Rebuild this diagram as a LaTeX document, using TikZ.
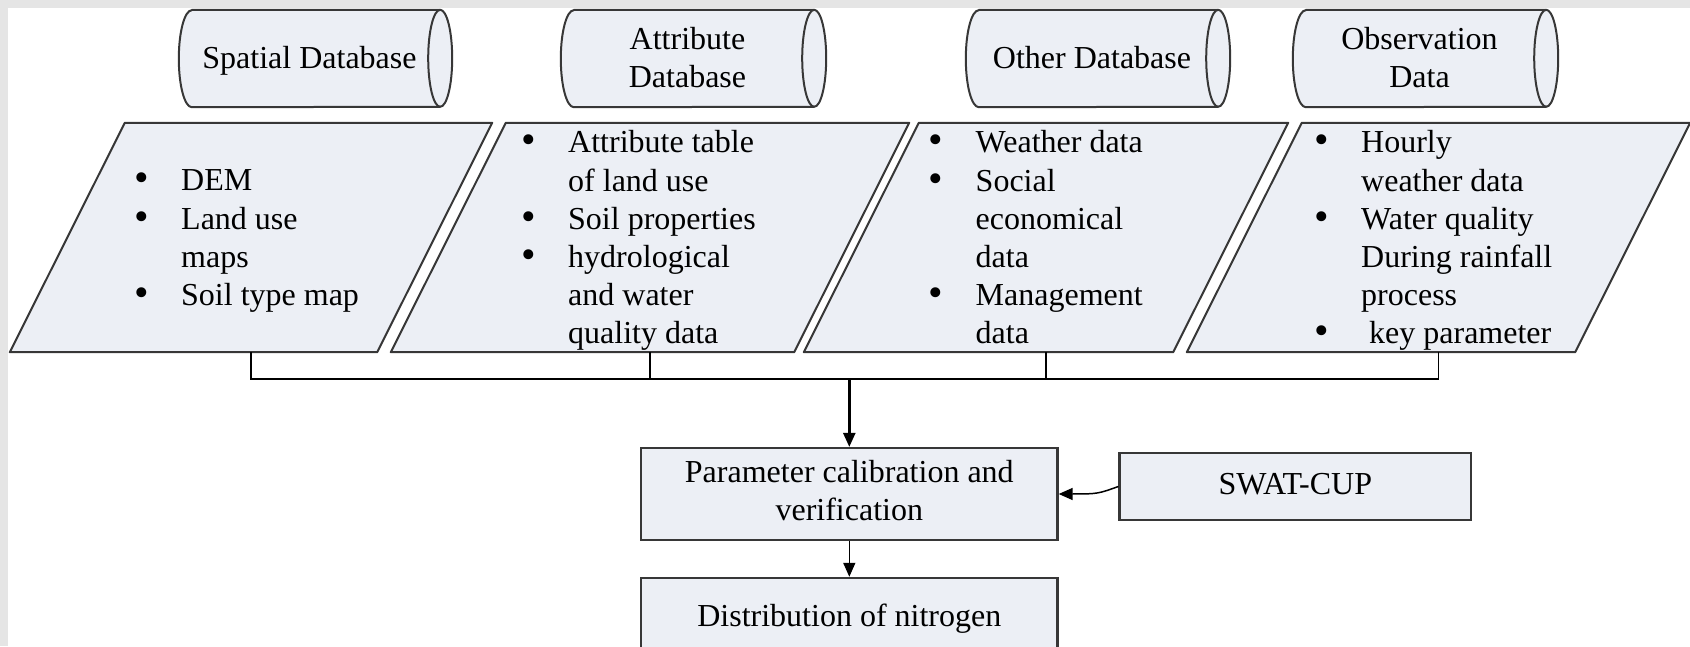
\documentclass[tikz,border=0pt]{standalone}
\usepackage{fontspec}
\setmainfont{Liberation Serif}
\usetikzlibrary{arrows.meta,backgrounds,calc}
\definecolor{boxfill}{RGB}{236,239,245}
\definecolor{edge}{RGB}{55,55,55}
\definecolor{framegray}{RGB}{229,229,229}
\newcommand\bul{\makebox[47pt][l]{\raisebox{-1pt}{\scalebox{1.3}{\textbullet}}}}
\newcommand\nob{\hspace*{47pt}}
\begin{document}
\begin{tikzpicture}[x=1pt,y=1pt,
  txt/.style={font=\fontsize{32}{38.2}\selectfont, inner sep=0pt},
  cylbox/.style={minimum height=97pt, inner sep=0pt},
  cyltext/.style={txt, align=center},
  listtext/.style={txt, anchor=base west},
  parbox/.style={minimum height=229pt, inner sep=0pt},
  procbox/.style={draw=edge, line width=2.2pt, fill=boxfill, txt, align=center},
  shapeline/.style={draw=edge, line width=2pt, line join=round},
  bus/.style={line width=1.5pt, draw=black},
  arr/.style={line width=1.5pt, -{Triangle[length=14pt,width=12pt]}},
  mainarr/.style={line width=2.4pt, -{Triangle[length=14pt,width=12pt]}},
]
\useasboundingbox (0,0) rectangle (1690,646);
\begin{scope}
\clip (0,0) rectangle (1690,646);
\begin{pgfonlayer}{background}
\fill[framegray] (0,638) rectangle (1690,646);
\fill[framegray] (0,0) rectangle (8,646);
\end{pgfonlayer}

% database cylinders
\node[cylbox, minimum width=261pt] (c1) at (309.5,587.5) {};
\node[cylbox, minimum width=253pt] (c2) at (687.5,587.5) {};
\node[cylbox, minimum width=252pt] (c3) at (1092,587.5) {};
\node[cylbox, minimum width=253pt] (c4) at (1419.5,587.5) {};
\begin{pgfonlayer}{background}
\foreach \cy in {c1,c2,c3,c4}{
  \draw[shapeline, fill=boxfill] ([xshift=13pt]\cy.north west) -- (\cy.north east)
    arc[start angle=90,end angle=-90,x radius=12pt,y radius=48.5pt]
    -- ([xshift=13pt]\cy.south west)
    arc[start angle=270,end angle=90,x radius=13pt,y radius=48.5pt] -- cycle;
  \draw[shapeline] (\cy.north east) arc[start angle=90,end angle=270,x radius=12pt,y radius=48.5pt];
}
\end{pgfonlayer}
\node[cyltext] (c1t) at ([yshift=-2pt]c1.center) {\strut Spatial Database};
\node[cyltext] (c2t) at ([yshift=-2pt]c2.center) {\strut Attribute\\\strut Database};
\node[cyltext] (c3t) at ([yshift=-2pt]c3.center) {\strut Other Database};
\node[cyltext] (c4t) at ([yshift=-2pt]c4.center) {\strut Observation\\\strut Data};

% parallelograms
\node[parbox, minimum width=482pt] (p1) at (251,408.5) {};
\node[parbox, minimum width=518pt] (p2) at (650,408.5) {};
\node[parbox, minimum width=484pt] (p3) at (1046,408.5) {};
\node[parbox, minimum width=503pt] (p4) at (1438.5,408.5) {};
\begin{pgfonlayer}{background}
\foreach \pa in {p1,p2,p3,p4}{
  \draw[shapeline, fill=boxfill] (\pa.south west) -- ([xshift=-115pt]\pa.south east)
    -- (\pa.north east) -- ([xshift=115pt]\pa.north west) -- cycle;
}
\end{pgfonlayer}
\node[listtext] (p1t) at (134,455) {\begin{tabular}[t]{@{}l@{}}\bul DEM\\ \bul Land use\\ \nob maps\\ \bul Soil type map\end{tabular}};
\node[listtext] (p2t) at (521,493) {\begin{tabular}[t]{@{}l@{}}\bul Attribute table\\ \nob of land use\\ \bul Soil properties\\ \bul hydrological\\ \nob and water\\ \nob quality data\end{tabular}};
\node[listtext] (p3t) at (928.5,493) {\begin{tabular}[t]{@{}l@{}}\bul Weather data\\ \bul Social\\ \nob economical\\ \nob data\\ \bul Management\\ \nob data\end{tabular}};
\node[listtext] (p4t) at (1314,493) {\begin{tabular}[t]{@{}l@{}}\bul Hourly\\ \nob weather data\\ \bul Water quality\\ \nob During rainfall\\ \nob process\\ \bul\ key parameter\end{tabular}};

% process boxes
\node[procbox, minimum width=416.5pt, minimum height=92pt] (param) at (849.3,152) {\strut Parameter calibration and\\\strut verification};
\node[procbox, minimum width=351.5pt, minimum height=67pt] (swat) at (1295.3,159.5) {\strut SWAT-CUP};
\node[procbox, minimum width=416.5pt, minimum height=81pt] (dist) at (849.3,27.6) {\strut Distribution of nitrogen};

% connectors
\coordinate (busy) at (0,267);
\draw[bus] (p1.south) -- (p1.south |- busy) -- (p4.south |- busy) -- (p4.south);
\draw[bus] (p2.south) -- (p2.south |- busy);
\draw[bus] (p3.south) -- (p3.south |- busy);
\coordinate (busj) at (param.north |- busy);
\draw[mainarr] (busj) -- (param.north);
\draw[arr] (swat.west) .. controls +(-20,-7) and +(40,0) .. (param.east);
\draw[arr] (param.south) -- (dist.north);
\end{scope}
\end{tikzpicture}
\end{document}
